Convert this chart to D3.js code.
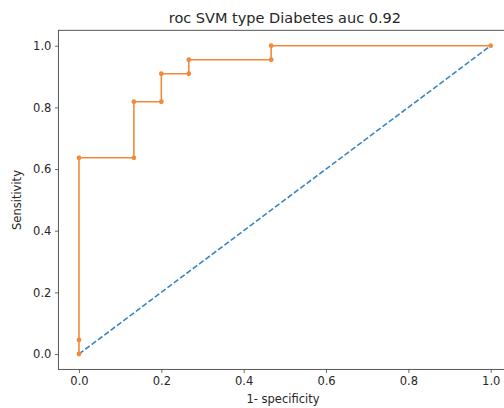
<!DOCTYPE html>
<html><head><meta charset="utf-8">
<script src="https://cdn.jsdelivr.net/npm/d3@7"></script>
<style>body{margin:0;background:#fff}svg{display:block}text{font-family:"DejaVu Sans",sans-serif;fill:#262626}</style>
</head><body><svg id="c" width="504" height="408"></svg>
<script>
const fpr = [0, 0, 0, 0.1333, 0.1333, 0.2, 0.2, 0.2667, 0.2667, 0.4667, 0.4667, 1.0];
const tpr = [0, 0.0455, 0.6364, 0.6364, 0.8182, 0.8182, 0.9091, 0.9091, 0.9545, 0.9545, 1.0, 1.0];
const diagX = [0, 1];
const diagY = [0, 1];
const xTicks = [0, 0.2, 0.4, 0.6, 0.8, 1.0];
const yTicks = [0, 0.2, 0.4, 0.6, 0.8, 1.0];
const titleText = "roc SVM type Diabetes auc 0.92";
const xLabel = "1- specificity";
const yLabel = "Sensitivity";

const svg = d3.select("#c");
const x = d3.scaleLinear().domain([-0.05, 1.05]).range([58.4, 511.3]);
const y = d3.scaleLinear().domain([-0.05, 1.05]).range([369.4, 30.3]);

const pts = fpr.map((v, i) => [v, tpr[i]]);
svg.append("path").datum(diagX.map((v,i)=>[v, diagY[i]]))
  .attr("d", d3.line().x(d=>x(d[0])).y(d=>y(d[1])))
  .attr("fill","none").attr("stroke","#3a86c4").attr("stroke-width",1.6)
  .attr("stroke-dasharray","5.5,2.4");
svg.append("path").datum(pts)
  .attr("d", d3.line().x(d=>x(d[0])).y(d=>y(d[1])))
  .attr("fill","none").attr("stroke","#f28a3a").attr("stroke-width",1.6);
svg.selectAll("circle.m").data(pts).enter().append("circle")
  .attr("cx", d=>x(d[0])).attr("cy", d=>y(d[1])).attr("r", 2.4)
  .attr("fill","#f28a3a");

const gx = svg.append("g").attr("transform","translate(0,369.4)")
  .call(d3.axisBottom(x).tickValues(xTicks).tickFormat(d3.format(".1f")).tickSize(3.5).tickPadding(3.5));
const gy = svg.append("g").attr("transform","translate(58.4,0)")
  .call(d3.axisLeft(y).tickValues(yTicks).tickFormat(d3.format(".1f")).tickSize(3.5).tickPadding(3.5));
[gx, gy].forEach(g => {
  g.select(".domain").remove();
  g.selectAll("line").attr("stroke","#444").attr("stroke-width",0.8);
  g.selectAll("text").attr("font-size", 11.5).attr("fill","#333");
});
svg.append("rect").attr("x",58.4).attr("y",30.3).attr("width",511.3-58.4).attr("height",369.4-30.3)
  .attr("fill","none").attr("stroke","#444").attr("stroke-width",0.9);

svg.append("text").attr("x", 284.9).attr("y", 23).attr("text-anchor","middle").attr("font-size",14.5).text(titleText);
svg.append("text").attr("x", 283).attr("y", 403).attr("text-anchor","middle").attr("font-size",11.5).text(xLabel);
svg.append("text").attr("transform","translate(21,200) rotate(-90)").attr("text-anchor","middle").attr("font-size",11.5).text(yLabel);
</script></body></html>
